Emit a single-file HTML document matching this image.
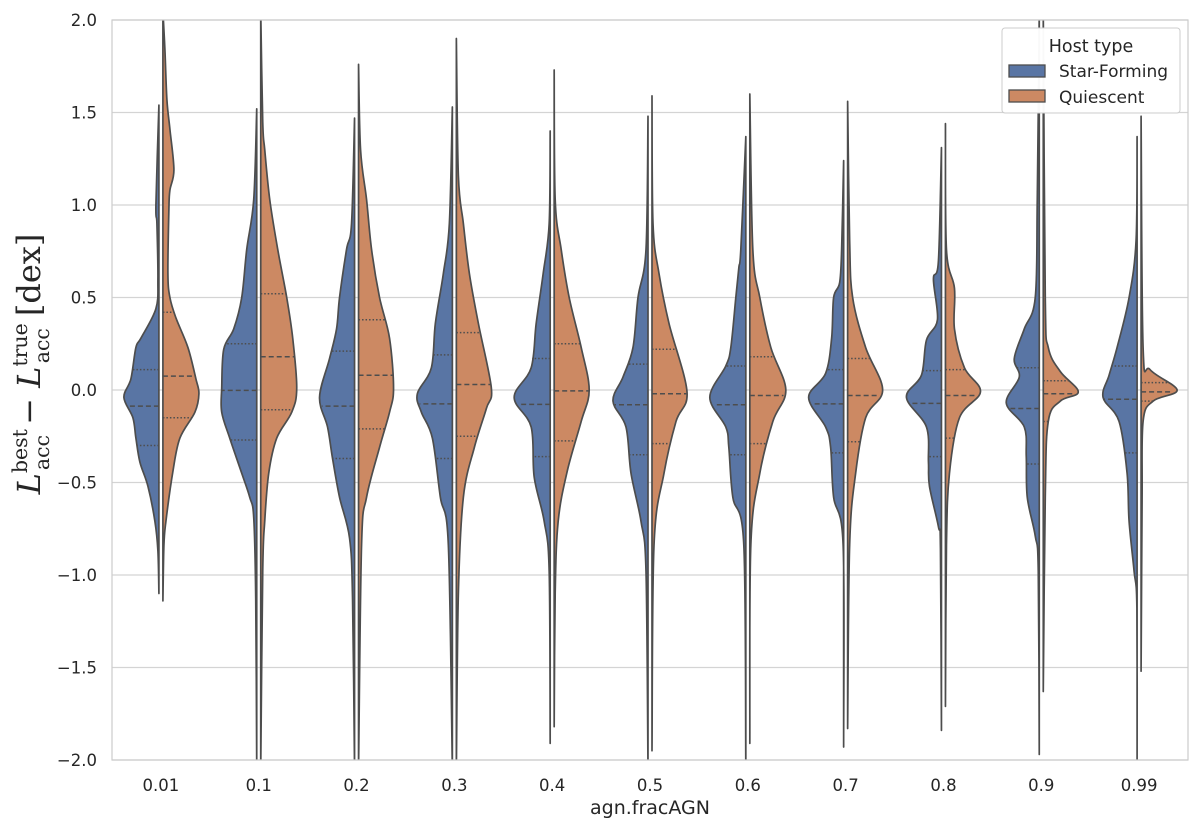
<!DOCTYPE html>
<html><head><meta charset="utf-8"><style>
html,body{margin:0;padding:0;background:#fff;}
svg{display:block;}
text{font-family:"DejaVu Sans","Liberation Sans",sans-serif;fill:#262626;}
.ser{font-family:"DejaVu Serif","Liberation Serif",serif;}
</style></head><body>
<svg id="chart" width="1200" height="832" viewBox="0 0 1200 832">
<defs><clipPath id="plotclip"><rect x="112" y="20" width="1076" height="740"/></clipPath></defs>
<rect x="0" y="0" width="1200" height="832" fill="#fff"/>
<g id="grid"></g>
<g id="violins" clip-path="url(#plotclip)"></g>
<rect x="112" y="20" width="1076" height="740" fill="none" stroke="#cccccc" stroke-width="1.2"/>
<g id="yticks"></g>
<g id="xticks"></g>
<text x="650" y="814" text-anchor="middle" font-size="19">agn.fracAGN</text>
<text class="ser" transform="translate(40,364) rotate(-90)" text-anchor="middle" font-size="32"><tspan class="ser" font-style="italic">L</tspan><tspan class="ser" font-size="20.5" dy="-13">best</tspan><tspan class="ser" font-size="20.5" dx="-41" dy="22">acc</tspan><tspan class="ser" dy="-9" dx="10">− </tspan><tspan class="ser" font-style="italic">L</tspan><tspan class="ser" font-size="20.5" dy="-13">true</tspan><tspan class="ser" font-size="20.5" dx="-40" dy="22">acc</tspan><tspan class="ser" dy="-9" dx="12">[dex]</tspan></text>
<g>
<rect x="1002" y="28" width="178" height="85" rx="3" fill="#fff" fill-opacity="0.97" stroke="#cccccc" stroke-width="1"/>
<text x="1091" y="52" text-anchor="middle" font-size="17.5">Host type</text>
<rect x="1009" y="65" width="36" height="12" fill="#5975a4" stroke="#4d4d4d" stroke-width="1.3"/>
<text x="1059" y="77" font-size="17">Star-Forming</text>
<rect x="1009" y="90" width="36" height="12" fill="#cc8963" stroke="#4d4d4d" stroke-width="1.3"/>
<text x="1059" y="103" font-size="17">Quiescent</text>
</g>
</svg>
<script>
const categories = ["0.01","0.1","0.2","0.3","0.4","0.5","0.6","0.7","0.8","0.9","0.99"];
const yTicks = [2.0,1.5,1.0,0.5,0.0,-0.5,-1.0,-1.5,-2.0];
// Star-Forming: knot values, densities, [min,max], [q1,median,q3]
const sfVals = [
 [1.0,0.9,0.6,0.44,0.28,0.23,0.06,-0.04,-0.15,-0.26,-0.39,-0.52,-0.71,-0.87],
 [1.03,0.76,0.5,0.33,0.22,0.01,-0.12,-0.26,-0.45,-0.58,-0.69,-1.13],
 [0.9,0.76,0.5,0.33,0.17,-0.04,-0.2,-0.37,-0.58,-0.8,-1.13],
 [0.9,0.63,0.36,0.12,-0.02,-0.12,-0.26,-0.58,-0.84],
 [0.9,0.63,0.36,0.12,-0.04,-0.2,-0.47,-0.71,-0.98],
 [0.76,0.5,0.23,0.07,-0.06,-0.2,-0.45,-0.71,-0.98],
 [0.76,0.66,0.5,0.23,0.13,-0.04,-0.2,-0.31,-0.58,-0.84],
 [0.76,0.58,0.5,0.28,0.09,-0.04,-0.2,-0.31,-0.58,-0.84],
 [0.7,0.6,0.38,0.27,0.08,-0.04,-0.2,-0.39,-0.52,-0.74,-0.86],
 [1.03,0.5,0.33,0.17,0.07,-0.07,-0.2,-0.36,-0.58,-0.79,-0.98],
 [0.81,0.5,0.23,0.08,-0.04,-0.17,-0.45,-0.71,-0.98,-1.18]
];
const sfDens = [
 [0.3,0.2,0.1,0.3,1.8,2.3,2.8,3.5,2.6,2.3,1.9,1.1,0.4,0.1],
 [0.3,1.0,1.5,2.3,3.3,3.5,3.5,2.7,1.5,0.7,0.3,0.1],
 [0.3,0.8,1.5,1.8,2.5,3.5,2.7,2.2,1.5,0.5,0.2],
 [0.3,0.9,1.7,2.1,3.5,3.1,2.0,1.2,0.4],
 [0.1,0.7,1.4,1.9,3.6,1.9,1.6,0.6,0.1],
 [0.2,1.0,1.5,2.5,3.5,2.2,1.7,0.7,0.2],
 [0.5,0.7,1.0,1.5,2.0,3.6,2.0,1.7,1.3,0.2],
 [0.2,0.4,1.0,1.2,1.8,3.5,1.8,1.3,1.0,0.05],
 [0.3,0.8,0.4,1.5,2.0,3.5,1.5,1.3,1.2,0.3,0.1],
 [0.2,0.4,1.5,2.5,2.0,3.3,1.5,1.3,1.2,0.4,0.1],
 [0.1,0.8,2.0,2.8,3.4,1.8,1.0,0.8,0.3,0.02]
];
const sfRange = [[-1.10,1.54],[-2.05,1.52],[-2.05,1.47],[-2.05,1.53],[-1.91,1.40],[-2.05,1.48],[-2.05,1.37],[-1.93,1.24],[-1.84,1.31],[-1.97,2.05],[-2.05,1.37]];
const sfQuart = [[-0.30,-0.087,0.11],[-0.27,-0.002,0.25],[-0.37,-0.087,0.21],[-0.37,-0.075,0.19],[-0.36,-0.078,0.17],[-0.35,-0.08,0.14],[-0.35,-0.08,0.13],[-0.34,-0.075,0.11],[-0.36,-0.072,0.105],[-0.40,-0.10,0.12],[-0.34,-0.05,0.13]];
// Quiescent
const qVals = [
 [1.84,1.57,1.41,1.19,1.08,0.98,0.63,0.5,0.39,0.23,0.06,-0.02,-0.12,-0.26,-0.44,-0.71,-0.84],
 [1.45,1.3,1.03,0.76,0.5,0.28,0.01,-0.12,-0.26,-0.45,-0.71,-0.98],
 [1.3,1.03,0.76,0.5,0.28,0.01,-0.12,-0.31,-0.58,-0.84],
 [1.16,0.9,0.63,0.36,0.01,-0.1,-0.31,-0.58,-1.1],
 [1.03,0.76,0.5,0.23,0.0,-0.17,-0.44,-0.71,-1.1],
 [0.9,0.63,0.36,-0.01,-0.17,-0.45,-0.84],
 [0.76,0.5,0.23,0.0,-0.17,-0.45,-0.84],
 [0.81,0.5,0.23,0.0,-0.15,-0.45,-0.84],
 [0.76,0.55,0.33,0.12,-0.01,-0.15,-0.45,-0.84],
 [0.5,0.23,0.1,-0.01,-0.06,-0.17,-0.58],
 [0.23,0.11,0.0,-0.06,-0.17,-0.6]
];
const qDens = [
 [0.2,0.4,0.7,1.1,0.7,0.6,0.5,0.7,1.3,2.5,3.3,3.6,3.2,1.7,1.0,0.3,0.1],
 [0.2,0.4,0.9,1.7,2.6,3.2,3.6,3.1,1.6,0.8,0.4,0.2],
 [0.2,0.8,1.3,2.1,3.1,3.5,3.1,2.1,0.8,0.3],
 [0.2,0.7,1.3,2.2,3.5,3.0,1.8,0.7,0.2],
 [0.1,0.7,1.5,2.7,3.5,2.7,1.3,0.4,0.1],
 [0.1,0.7,1.7,3.5,2.4,1.2,0.2],
 [0.3,1.0,2.1,3.6,2.3,1.0,0.1],
 [0.2,0.5,1.8,3.5,1.8,0.8,0.2],
 [0.1,0.9,0.9,1.9,3.5,1.4,0.4,0.1],
 [0.2,0.5,1.7,3.5,1.7,0.5,0.2],
 [0.2,0.9,3.6,1.2,0.2,0.1]
];
const qRange = [[-1.14,2.05],[-2.05,2.05],[-2.05,1.76],[-2.05,1.90],[-1.82,1.73],[-1.95,1.59],[-1.91,1.60],[-1.83,1.56],[-1.71,1.44],[-1.63,2.05],[-1.52,1.48]];
const qQuart = [[-0.15,0.075,0.42],[-0.107,0.18,0.52],[-0.21,0.08,0.38],[-0.25,0.03,0.31],[-0.275,-0.005,0.25],[-0.29,-0.02,0.22],[-0.29,-0.03,0.18],[-0.28,-0.03,0.17],[-0.26,-0.03,0.11],[-0.17,-0.02,0.05],[-0.06,-0.01,0.04]];

const X0=112, X1=1188, Y0=20, Y1=760, VMIN=-2, VMAX=2;
const band=(X1-X0)/categories.length;
function xCenter(i){return X0+band*(i+0.5);}
function yScale(v){return Y1-(v-VMIN)/(VMAX-VMIN)*(Y1-Y0);}
function wScale(d){return d*10*band/97.8;}
const NS="http://www.w3.org/2000/svg";
function mk(tag,attrs,parent){const e=document.createElementNS(NS,tag);for(const k in attrs)e.setAttribute(k,attrs[k]);parent.appendChild(e);return e;}

const grid=document.getElementById('grid');
yTicks.forEach(t=>{
  const l=mk('line',{x1:X0,x2:X1,y1:yScale(t),y2:yScale(t),stroke:'#d4d4d4','stroke-width':1.2},grid);
  
  
  const tx=mk('text',{x:97,y:yScale(t)+6,'text-anchor':'end','font-size':16.5},document.getElementById('yticks'));
  tx.textContent=(t<0?'−':'')+Math.abs(t).toFixed(1);
  
  
});
categories.forEach((c,i)=>{
  const tx=mk('text',{x:xCenter(i),y:791,'text-anchor':'middle','font-size':16.5},document.getElementById('xticks'));
  tx.textContent=c;
  
  
});

function widthAt(vals,dens,range,v){
  const ks=[[range[1],0]].concat(vals.map((x,j)=>[x,dens[j]])).concat([[range[0],0]]);
  for(let j=0;j<ks.length-1;j++){
    const a=ks[j],b=ks[j+1];
    if(v<=a[0]&&v>=b[0]){const t=(a[0]-v)/(a[0]-b[0]||1);return a[1]+(b[1]-a[1])*t;}
  }
  return 0;
}
function catmull(pts){
  let d='M'+pts[0][0].toFixed(2)+','+pts[0][1].toFixed(2);
  for(let i=0;i<pts.length-1;i++){
    const p0=pts[Math.max(i-1,0)],p1=pts[i],p2=pts[i+1],p3=pts[Math.min(i+2,pts.length-1)];
    const c1=[p1[0]+(p2[0]-p0[0])/6,p1[1]+(p2[1]-p0[1])/6];
    const c2=[p2[0]-(p3[0]-p1[0])/6,p2[1]-(p3[1]-p1[1])/6];
    d+='C'+c1[0].toFixed(2)+','+c1[1].toFixed(2)+' '+c2[0].toFixed(2)+','+c2[1].toFixed(2)+' '+p2[0].toFixed(2)+','+p2[1].toFixed(2);
  }
  return d;
}
const vg=document.getElementById('violins');
function drawHalf(i,side,vals,dens,range,quart,color,name){
  const inner=xCenter(i)+side*2;
  const pts=[[inner,yScale(range[1])]];
  vals.forEach((v,j)=>pts.push([inner+side*wScale(dens[j]),yScale(v)]));
  pts.push([inner,yScale(range[0])]);
  const p=mk('path',{d:catmull(pts)+'Z',fill:color,stroke:'#4d4d4d','stroke-width':1.7,'stroke-linejoin':'round'},vg);
  
  
  quart.forEach((q,k)=>{
    const w=wScale(widthAt(vals,dens,range,q));
    const l=mk('line',{x1:inner,x2:inner+side*w,y1:yScale(q),y2:yScale(q),stroke:'#4d4d4d','stroke-width':1.5,'stroke-dasharray':k===1?'5,3':'1.5,2'},vg);
    
    
  });
}
categories.forEach((c,i)=>{
  drawHalf(i,-1,sfVals[i],sfDens[i],sfRange[i],sfQuart[i],'#5975a4','violin-star-forming-'+c);
  drawHalf(i,1,qVals[i],qDens[i],qRange[i],qQuart[i],'#cc8963','violin-quiescent-'+c);
});
</script>
</body></html>
